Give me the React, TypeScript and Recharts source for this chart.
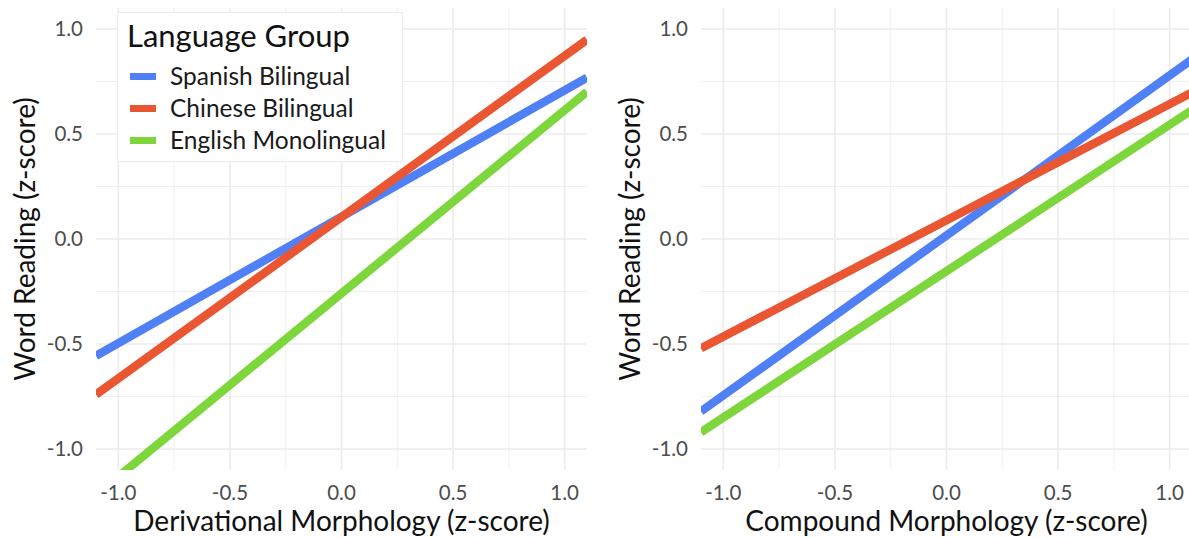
import React from 'react';
import { LineChart, Line, XAxis, YAxis, CartesianGrid, Legend } from 'recharts';

const FONT = 'Lato, "Open Sans", sans-serif';

// x positions of the fitted lines (panel range)
const xPoints = [-1.1, 1.1];

// Derivational panel
const derivSpanish = [-0.556, 0.768];
const derivChinese = [-0.741, 0.949];
const derivEnglish = [-1.219, 0.701];

// Compound panel
const compSpanish = [-0.821, 0.855];
const compChinese = [-0.52, 0.698];
const compEnglish = [-0.92, 0.614];

const seriesKeys = ['spanish', 'chinese', 'english'];
const seriesNames = ['Spanish Bilingual', 'Chinese Bilingual', 'English Monolingual'];
const seriesColors = ['#4F80F5', '#EA5532', '#7DD63C'];

const majorTicks = [-1, -0.5, 0, 0.5, 1];
const minorTicks = [-0.75, -0.25, 0.25, 0.75];

const derivData = xPoints.map((x, i) => ({
  x,
  spanish: derivSpanish[i],
  chinese: derivChinese[i],
  english: derivEnglish[i],
}));

const compData = xPoints.map((x, i) => ({
  x,
  spanish: compSpanish[i],
  chinese: compChinese[i],
  english: compEnglish[i],
}));

const fmt = (v: number) => v.toFixed(1);

const renderLegend = () => (
  <div
    style={{
      width: 286,
      height: 150,
      background: '#fff',
      border: '1px solid #EBEBEB',
      boxSizing: 'border-box',
      fontFamily: FONT,
      position: 'relative',
    }}
  >
    <div
      style={{
        position: 'absolute',
        left: 9,
        top: 4,
        fontSize: 31,
        lineHeight: '36px',
        color: '#111',
        whiteSpace: 'nowrap',
      }}
    >
      Language Group
    </div>
    {seriesNames.map((name, i) => (
      <div
        key={name}
        style={{
          position: 'absolute',
          left: 12,
          top: 50 + i * 32,
          height: 26,
          display: 'flex',
          alignItems: 'center',
          whiteSpace: 'nowrap',
        }}
      >
        <span style={{ display: 'inline-block', width: 26, height: 7, background: seriesColors[i] }} />
        <span style={{ marginLeft: 14, fontSize: 24.5, color: '#1a1a1a', lineHeight: '26px' }}>{name}</span>
      </div>
    ))}
  </div>
);

function Panel({ data, xTitle, showLegend }: { data: any[]; xTitle: string; showLegend: boolean }) {
  const xLabel = (props: any) => {
    const vb = props.viewBox;
    return (
      <text
        x={vb.x + vb.width / 2}
        y={vb.y + 61}
        textAnchor="middle"
        fill="#111"
        fontSize={28}
        fontFamily={FONT}
      >
        {xTitle}
      </text>
    );
  };
  const yLabel = (props: any) => {
    const vb = props.viewBox;
    const cx = vb.x - 11;
    const cy = vb.y + vb.height / 2;
    return (
      <text
        x={cx}
        y={cy}
        dy="0.36em"
        transform={`rotate(-90, ${cx}, ${cy})`}
        textAnchor="middle"
        fill="#111"
        fontSize={28}
        fontFamily={FONT}
      >
        Word Reading (z-score)
      </text>
    );
  };
  return (
    <LineChart width={600} height={538} data={data} margin={{ top: 8, right: 13, left: 36, bottom: 0 }}>
      <CartesianGrid
        stroke="#F0F0F0"
        strokeWidth={1}
        horizontalValues={minorTicks}
        verticalValues={minorTicks}
      />
      <CartesianGrid
        stroke="#EBEBEB"
        strokeWidth={1.6}
        horizontalValues={majorTicks}
        verticalValues={majorTicks}
      />
      <XAxis
        type="number"
        dataKey="x"
        domain={[-1.1, 1.1]}
        allowDataOverflow
        ticks={majorTicks}
        interval={0}
        tickFormatter={fmt}
        axisLine={false}
        tickLine={false}
        tickSize={0}
        tickMargin={15}
        height={68}
        tick={{ fill: '#4D4D4D', fontSize: 20.5, fontFamily: FONT }}
        label={{ content: xLabel }}
      />
      <YAxis
        type="number"
        domain={[-1.1, 1.1]}
        allowDataOverflow
        ticks={majorTicks}
        interval={0}
        tickFormatter={fmt}
        axisLine={false}
        tickLine={false}
        tickSize={0}
        tickMargin={13}
        width={60}
        tick={{ fill: '#4D4D4D', fontSize: 20.5, fontFamily: FONT }}
        label={{ content: yLabel }}
      />
      {seriesKeys.map((k, i) => (
        <Line
          key={k}
          type="linear"
          dataKey={k}
          name={seriesNames[i]}
          stroke={seriesColors[i]}
          strokeWidth={8.5}
          dot={false}
          activeDot={false}
          isAnimationActive={false}
        />
      ))}
      {showLegend && (
        <Legend
          layout="vertical"
          align="center"
          verticalAlign="middle"
          content={renderLegend}
          wrapperStyle={{ left: 117, top: 12, width: 286, height: 150 }}
        />
      )}
    </LineChart>
  );
}

export default function App() {
  return (
    <div
      style={{
        position: 'absolute',
        left: 0,
        top: 0,
        width: 1189,
        height: 538,
        overflow: 'hidden',
        background: '#fff',
      }}
    >
      <div style={{ position: 'absolute', left: 0, top: 0 }}>
        <Panel data={derivData} xTitle="Derivational Morphology (z-score)" showLegend={true} />
      </div>
      <div style={{ position: 'absolute', left: 605, top: 0 }}>
        <Panel data={compData} xTitle="Compound Morphology (z-score)" showLegend={false} />
      </div>
    </div>
  );
}
